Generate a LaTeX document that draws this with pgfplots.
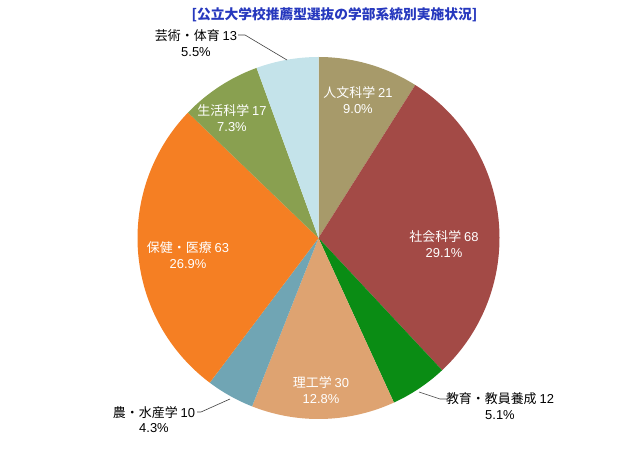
\documentclass[border=0pt]{standalone}
\usepackage{fontspec}
\setmainfont{Noto Sans CJK JP}
\newfontfamily\lat{Liberation Sans}
\usepackage{pgfplots}
\pgfplotsset{compat=1.18}
\definecolor{c1}{HTML}{A79A6A}
\definecolor{c2}{HTML}{A34A46}
\definecolor{c3}{HTML}{0A8C14}
\definecolor{c4}{HTML}{DEA371}
\definecolor{c5}{HTML}{70A5B4}
\definecolor{c6}{HTML}{F57F23}
\definecolor{c7}{HTML}{89A050}
\definecolor{c8}{HTML}{C4E3EA}
\definecolor{titleblue}{HTML}{2638BE}
\newcommand\n[1]{{\lat #1}}
\begin{document}
\begin{tikzpicture}
\useasboundingbox (0bp,0bp) rectangle (640bp,458bp);
\begin{axis}[at={(318.5bp,220bp)}, anchor=center, width=362bp, height=362bp,
  scale only axis, hide axis, xmin=-1, xmax=1, ymin=-1, ymax=1, clip=false]
\def\total{234}
\xdef\cum{0}
\foreach \v/\c in {21/c1,68/c2,12/c3,30/c4,10/c5,63/c6,17/c7,13/c8} {
  \pgfmathsetmacro\a{90-\cum/\total*360}
  \pgfmathsetmacro\newcum{\cum+\v}
  \pgfmathsetmacro\b{90-\newcum/\total*360}
  \xdef\cum{\newcum}
  \edef\doplot{\noexpand\addplot[fill=\c, draw=none, domain=\b:\a, samples=90, variable=\noexpand\t]
    ({cos(\noexpand\t)},{sin(\noexpand\t)}) -- (axis cs:0,0) -- cycle;}
  \doplot
}
\end{axis}
\begin{scope}[x=1bp,y=1bp]
\node[font=\bfseries\fontsize{13.8}{15}\selectfont, text=titleblue] at (334.5,443) {[公立大学校推薦型選抜の学部系統別実施状況]};
\begin{scope}[every node/.style={font=\fontsize{13}{15.5}\selectfont, align=center, inner sep=0pt}]
\node[text=white] at (358,358) {人文科学 \n{21}\\\n{9.0\%}};
\node[text=white] at (444,214) {社会科学 \n{68}\\\n{29.1\%}};
\node[text=black] at (500,52) {教育・教員養成 \n{12}\\\n{5.1\%}};
\node[text=white] at (321,68) {理工学 \n{30}\\\n{12.8\%}};
\node[text=black] at (154,38.5) {農・水産学 \n{10}\\\n{4.3\%}};
\node[text=white] at (188,203) {保健・医療 \n{63}\\\n{26.9\%}};
\node[text=white] at (232,340) {生活科学 \n{17}\\\n{7.3\%}};
\node[text=black] at (196,415) {芸術・体育 \n{13}\\\n{5.5\%}};
\end{scope}
\draw[black!75, line width=0.6bp] (238,423) -- (245,423) -- (287,398);
\draw[black!75, line width=0.6bp] (419,66) -- (440,59) -- (447,59);
\draw[black!75, line width=0.6bp] (197,46) -- (201,46) -- (230,59);
\end{scope}
\end{tikzpicture}
\end{document}
